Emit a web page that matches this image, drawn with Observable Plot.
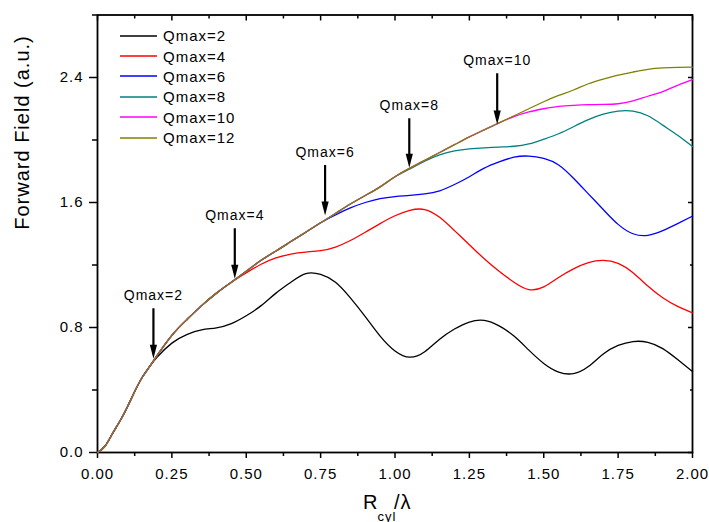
<!DOCTYPE html>
<html>
<head>
<meta charset="utf-8">
<script src="https://cdn.jsdelivr.net/npm/d3@7"></script>
<script src="https://cdn.jsdelivr.net/npm/@observablehq/plot@0.6"></script>
<style>
  html, body { margin: 0; padding: 0; background: white; }
  #wrap { position: relative; width: 709px; height: 522px; overflow: hidden; }
  #wrap svg text { letter-spacing: 1px; }
  #legend { position: absolute; left: 120px; top: 25.5px; font-family: "Liberation Sans", Arial, sans-serif; font-size: 15px; letter-spacing: 1px; color: black; }
  .row { height: 20.4px; display: flex; align-items: center; }
  .row svg { margin-right: 6px; }
</style>
</head>
<body>
<div id="wrap"><div id="legend"></div></div>
<script>
// ---- data ----
const xs = [0,0.025,0.05,0.075,0.1,0.125,0.15,0.175,0.2,0.25,0.3,0.35,0.4,0.45,0.5,0.55,0.6,0.65,0.7,0.75,0.8,0.85,0.9,0.95,1.0,1.05,1.1,1.15,1.2,1.25,1.3,1.35,1.4,1.45,1.5,1.55,1.6,1.65,1.7,1.75,1.8,1.85,1.9,1.95,2.0];

const q2  = [0,0.04,0.12,0.2,0.29,0.39,0.48,0.55,0.61,0.70,0.755,0.785,0.798,0.825,0.875,0.94,1.02,1.09,1.145,1.14,1.09,0.99,0.87,0.745,0.65,0.61,0.645,0.725,0.79,0.835,0.845,0.81,0.745,0.655,0.57,0.515,0.505,0.55,0.63,0.685,0.71,0.705,0.665,0.595,0.518];
const q4  = [0,0.04,0.12,0.2,0.29,0.39,0.48,0.55,0.62,0.75,0.85,0.94,1.02,1.09,1.15,1.205,1.245,1.27,1.283,1.292,1.315,1.357,1.41,1.465,1.515,1.55,1.555,1.505,1.42,1.33,1.24,1.16,1.09,1.043,1.06,1.12,1.175,1.215,1.229,1.21,1.15,1.065,0.99,0.935,0.894];
const q6  = [0,0.04,0.12,0.2,0.29,0.39,0.48,0.55,0.62,0.75,0.85,0.94,1.02,1.09,1.16,1.23,1.29,1.35,1.41,1.47,1.52,1.565,1.60,1.625,1.638,1.645,1.655,1.675,1.715,1.765,1.82,1.86,1.89,1.897,1.882,1.84,1.755,1.655,1.555,1.46,1.40,1.39,1.42,1.465,1.513];
const q8  = [0,0.04,0.12,0.2,0.29,0.39,0.48,0.55,0.62,0.75,0.85,0.94,1.02,1.09,1.16,1.23,1.29,1.35,1.41,1.47,1.53,1.59,1.645,1.70,1.765,1.815,1.865,1.905,1.93,1.943,1.95,1.955,1.96,1.975,2.005,2.04,2.085,2.13,2.165,2.185,2.185,2.155,2.095,2.03,1.958];
const q10 = [0,0.04,0.12,0.2,0.29,0.39,0.48,0.55,0.62,0.75,0.85,0.94,1.02,1.09,1.16,1.23,1.29,1.35,1.41,1.47,1.53,1.59,1.645,1.70,1.765,1.82,1.87,1.92,1.97,2.02,2.065,2.11,2.15,2.18,2.20,2.215,2.222,2.226,2.228,2.232,2.25,2.28,2.31,2.35,2.387];
const q12 = [0,0.04,0.12,0.2,0.29,0.39,0.48,0.55,0.62,0.75,0.85,0.94,1.02,1.09,1.16,1.23,1.29,1.35,1.41,1.47,1.53,1.59,1.645,1.70,1.765,1.82,1.87,1.92,1.97,2.02,2.065,2.11,2.155,2.20,2.245,2.285,2.32,2.36,2.39,2.415,2.435,2.452,2.461,2.465,2.467];

const seriesNames  = ["Qmax=2","Qmax=4","Qmax=6","Qmax=8","Qmax=10","Qmax=12"];
const seriesValues = [q2, q4, q6, q8, q10, q12];
const seriesColors = ["#000000","#ff0000","#0000ff","#008080","#ff00ff","#808000"];

// annotations (arrows)
const annLabel = ["Qmax=2","Qmax=4","Qmax=6","Qmax=8","Qmax=10"];
const annX     = [0.188, 0.4615, 0.765, 1.048, 1.3435];
const annTop   = [0.92, 1.432, 1.837, 2.136, 2.424];
const annTip   = [0.60, 1.112, 1.517, 1.822, 2.10];

// ticks
const xMajor = [0,0.25,0.5,0.75,1.0,1.25,1.5,1.75,2.0];
const xMinor = [0.125,0.375,0.625,0.875,1.125,1.375,1.625,1.875];
const yMajor = [0,0.8,1.6,2.4];
const yMinor = [0.4,1.2,2.0,2.8];

// ---- build ----
const rows = [];
seriesNames.forEach((name, i) => {
  xs.forEach((x, j) => rows.push({series: name, x, y: seriesValues[i][j]}));
});
const ann = annLabel.map((label, i) => ({label, x: annX[i], top: annTop[i], tip: annTip[i]}));

const arrowHead = {
  draw(ctx) {
    ctx.moveTo(0, 0);
    ctx.lineTo(-3.6, -14);
    ctx.lineTo(3.6, -14);
    ctx.closePath();
  }
};

const font = "'Liberation Sans', Arial, sans-serif";
const noText = () => "";

const chart = Plot.plot({
  width: 709,
  height: 522,
  marginLeft: 97,
  marginRight: 17,
  marginTop: 14.5,
  marginBottom: 70,
  style: {fontFamily: font, fontSize: "15px", color: "black", background: "white", overflow: "visible"},
  x: {domain: [0, 2]},
  y: {domain: [0, 2.8]},
  marks: [
    Plot.axisX(xMajor, {anchor: "bottom", tickSize: 6, tickPadding: 10, tickFormat: d => d.toFixed(2), label: null, fontSize: 15, strokeWidth: 1.5}),
    Plot.axisX(xMinor, {anchor: "bottom", tickSize: 4, tickFormat: noText, label: null, strokeWidth: 1.5}),
    Plot.axisX(xMajor, {anchor: "top", tickSize: -5, tickFormat: noText, label: null, strokeWidth: 1.5}),
    Plot.axisX(xMinor, {anchor: "top", tickSize: -3, tickFormat: noText, label: null, strokeWidth: 1.5}),
    Plot.axisY(yMajor, {anchor: "left", tickSize: 8, tickPadding: 6, tickFormat: d => d.toFixed(1), label: null, fontSize: 15, strokeWidth: 1.5}),
    Plot.axisY(yMinor, {anchor: "left", tickSize: 5, tickFormat: noText, label: null, strokeWidth: 1.5}),
    Plot.axisY(yMajor, {anchor: "right", tickSize: -5, tickFormat: noText, label: null, strokeWidth: 1.5}),
    Plot.axisY(yMinor, {anchor: "right", tickSize: -3, tickFormat: noText, label: null, strokeWidth: 1.5}),
    Plot.frame({stroke: "black", strokeWidth: 1.8}),
    ...seriesNames.map((name, i) =>
      Plot.line(rows.filter(d => d.series === name), {x: "x", y: "y", stroke: seriesColors[i], strokeWidth: 1.3, curve: "natural"})
    ),
    Plot.ruleX(ann, {x: "x", y1: "top", y2: "tip", stroke: "black", strokeWidth: 2.2, insetBottom: 8}),
    Plot.dot(ann, {x: "x", y: "tip", symbol: arrowHead, fill: "black", stroke: "none", r: 4}),
    Plot.text(ann, {x: "x", y: "top", text: "label", dy: -13, fontSize: 14, fill: "black"}),
    Plot.text(["Forward Field (a.u.)"], {frameAnchor: "left", rotate: -90, dx: -75, dy: -4, fontSize: 20, fill: "black"}),
    Plot.text(["R"], {frameAnchor: "bottom", textAnchor: "start", dx: -32, dy: 56, fontSize: 20, fill: "black"}),
    Plot.text(["cyl"], {frameAnchor: "bottom", textAnchor: "start", dx: -17.5, dy: 68, fontSize: 13, fill: "black"}),
    Plot.text(["/λ"], {frameAnchor: "bottom", textAnchor: "start", dx: -1, dy: 56, fontSize: 20, fill: "black"})
  ]
});

const wrap = document.getElementById("wrap");
wrap.insertBefore(chart, wrap.firstChild);

// legend overlay
const legend = d3.select("#legend");
seriesNames.forEach((name, i) => {
  const row = legend.append("div").attr("class", "row");
  const s = row.append("svg").attr("width", 37).attr("height", 4);
  s.append("line").attr("x1", 0).attr("x2", 37).attr("y1", 2).attr("y2", 2)
    .attr("stroke", seriesColors[i]).attr("stroke-width", 1.3);
  row.append("span").text(name);
});
</script>
</body>
</html>
